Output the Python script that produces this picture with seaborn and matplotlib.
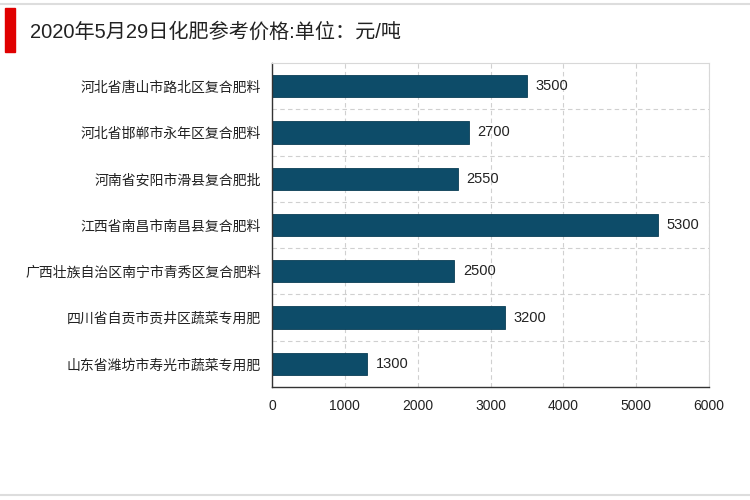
import numpy as np
import pandas as pd
import matplotlib
matplotlib.use("Agg")
import matplotlib.pyplot as plt
import seaborn as sns
from matplotlib.patches import Rectangle
from matplotlib.lines import Line2D

# ── data ──
regions = [
    "河北省唐山市路北区复合肥料",
    "河北省邯郸市永年区复合肥料",
    "河南省安阳市滑县复合肥批",
    "江西省南昌市南昌县复合肥料",
    "广西壮族自治区南宁市青秀区复合肥料",
    "四川省自贡市贡井区蔬菜专用肥",
    "山东省潍坊市寿光市蔬菜专用肥",
]
prices = [3500, 2700, 2550, 5300, 2500, 3200, 1300]
x_ticks = [0, 1000, 2000, 3000, 4000, 5000, 6000]

df = pd.DataFrame({"region": regions, "price": prices})

sns.set_theme(style="white")
plt.rcParams["font.family"] = ["Liberation Sans", "Noto Sans CJK SC", "DejaVu Sans"]

fig = plt.figure(figsize=(7.5, 5), dpi=100)
ax = fig.add_axes([0.3627, 0.226, 0.5827, 0.648])

sns.barplot(data=df, x="price", y="region", color="#0d4c69", width=0.48,
            saturation=1, ax=ax, edgecolor="#0a3d55", linewidth=0.6)

ax.set_xlim(0, 6000)
ax.set_xticks(x_ticks)
ax.set_xticklabels([str(t) for t in x_ticks], fontsize=10, color="#222222")
ax.set_ylim(len(regions) - 0.5, -0.5)
ax.set_xlabel("")
ax.set_ylabel("")
ax.tick_params(axis="y", labelsize=10, labelcolor="#222222", length=0, pad=8)
ax.tick_params(axis="x", length=0, pad=9)

# dashed grid, horizontal lines between categories
ax.set_yticks(np.arange(0.5, len(regions) - 0.5, 1), minor=True)
ax.grid(axis="x", which="major", linestyle=(0, (4, 3)), color="#d0d0d0", lw=0.8)
ax.grid(axis="y", which="minor", linestyle=(0, (4, 3)), color="#d0d0d0", lw=0.8)
ax.grid(axis="y", which="major", visible=False)
ax.set_axisbelow(True)

for side in ["top", "right"]:
    ax.spines[side].set_color("#d8d8d8")
    ax.spines[side].set_linewidth(0.8)
for side in ["left", "bottom"]:
    ax.spines[side].set_color("#333333")
    ax.spines[side].set_linewidth(1.0)

for i, v in enumerate(prices):
    ax.text(v + 120, i, str(v), va="center", ha="left", fontsize=10.5, color="#222222")

# header decoration
fig.add_artist(Line2D([0, 1], [0.992, 0.992], color="#dddddd", lw=1.5, transform=fig.transFigure))
fig.add_artist(Rectangle((0.007, 0.896), 0.013, 0.088, color="#e00000", transform=fig.transFigure))
fig.text(0.04, 0.935, "2020年5月29日化肥参考价格:单位：元/吨", fontsize=14.5,
         color="#222222", va="center", ha="left")
fig.add_artist(Line2D([0, 1], [0.01, 0.01], color="#dddddd", lw=1.5, transform=fig.transFigure))

fig.savefig("out.png", dpi=100)
